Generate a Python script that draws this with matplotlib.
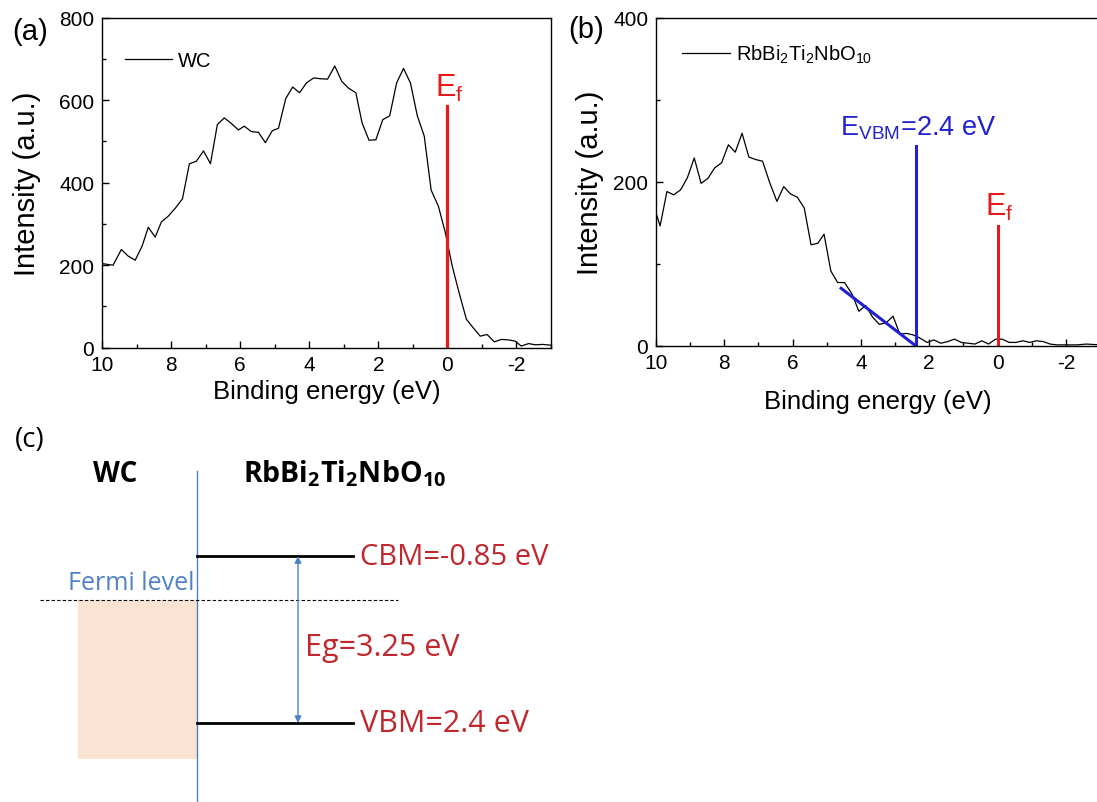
import numpy as np
import matplotlib
matplotlib.use("Agg")
import matplotlib.pyplot as plt
from matplotlib.ticker import MultipleLocator
from matplotlib.patches import Rectangle

plt.rcParams['font.family'] = ['Liberation Sans', 'DejaVu Sans']
plt.rcParams['mathtext.default'] = 'regular'
plt.rcParams['axes.unicode_minus'] = False

# (a) WC valence band XPS
wc_energy = [10.0, 9.68, 9.44, 9.24, 9.04, 8.84, 8.66, 8.46, 8.28, 8.08, 7.87, 7.67,
             7.47, 7.27, 7.06, 6.86, 6.66, 6.46, 6.26, 6.05, 5.88, 5.68, 5.47, 5.27,
             5.07, 4.89, 4.68, 4.48, 4.28, 4.08, 3.87, 3.67, 3.47, 3.26, 3.06, 2.86,
             2.65, 2.47, 2.27, 2.07, 1.87, 1.67, 1.47, 1.27, 1.07, 0.87, 0.67, 0.47,
             0.26, 0.06, -0.14, -0.34, -0.55, -0.75, -0.95, -1.15, -1.36, -1.56, -1.76,
             -1.96, -2.14, -2.35, -2.55, -2.75, -3.0]
wc_intensity = [204, 200, 238, 222, 212, 246, 292, 268, 305, 319, 339, 361,
                446, 452, 477, 446, 541, 557, 544, 528, 537, 524, 522, 497,
                526, 532, 604, 632, 618, 642, 654, 652, 651, 683, 646, 629,
                618, 545, 503, 504, 553, 562, 642, 677, 642, 562, 513, 382,
                343, 279, 198, 133, 69, 48, 28, 32, 14, 20, 19,
                16, 4, 10, 7, 8, 6]

# (b) RbBi2Ti2NbO10 valence band XPS
rb_energy = [10.0, 9.88, 9.68, 9.48, 9.28, 9.08, 8.88, 8.68, 8.48, 8.28, 8.08, 7.88,
             7.68, 7.48, 7.28, 7.08, 6.88, 6.68, 6.46, 6.26, 6.06, 5.86, 5.66, 5.46,
             5.26, 5.08, 4.88, 4.68, 4.48, 4.26, 4.06, 3.86, 3.66, 3.46, 3.26, 3.06,
             2.86, 2.66, 2.46, 2.26, 2.06, 1.86, 1.66, 1.46, 1.26, 1.06, 0.86, 0.66,
             0.46, 0.26, 0.06, -0.14, -0.34, -0.54, -0.74, -0.94, -1.14, -1.34, -1.54,
             -1.74, -1.94, -2.14, -2.34, -2.6, -3.0]
rb_intensity = [162, 146, 188, 184, 190, 205, 229, 198, 204, 217, 223, 245,
                236, 259, 230, 227, 225, 200, 176, 194, 185, 181, 168, 123,
                125, 136, 91, 77, 77, 63, 42, 49, 35, 26, 28, 36,
                14, 15, 13, 9, 4, 7, 3, 5, 8, 4, 3, 2,
                6, 2, 8, 8, 4, 4, 6, 4, 6, 5, 2,
                1, 1, 1, 1, 2, 1]

e_fermi = 0.0
e_vbm = 2.4
tangent_energy = [4.58, 2.4]
tangent_intensity = [70, 0]

# (c) band diagram (eV)
cbm = -0.85
vbm = 2.4
eg = 3.25
wc_fill_bottom = 3.1

red = '#E41A1C'
blue = '#2121D0'
txt_red = '#C0282D'
lt_blue = '#4F81C6'

fig = plt.figure(figsize=(10.97, 8.03), dpi=100)


def style(ax, ymaj, ymin, xlab_y, ylab_x):
    ax.set_xlim(10, -3)
    ax.xaxis.set_major_locator(MultipleLocator(2))
    ax.xaxis.set_minor_locator(MultipleLocator(1))
    ax.yaxis.set_major_locator(MultipleLocator(ymaj))
    ax.yaxis.set_minor_locator(MultipleLocator(ymin))
    ax.tick_params(which='both', direction='in', top=False, right=False, labelsize=15)
    ax.tick_params(axis='x', pad=5)
    ax.tick_params(axis='y', pad=5.5)
    ax.tick_params(which='major', length=5, width=1)
    ax.tick_params(which='minor', length=3, width=1)
    for s in ax.spines.values():
        s.set_linewidth(1)
    ax.set_xlabel('Binding energy (eV)', fontsize=18.5, va='center')
    ax.set_ylabel('Intensity (a.u.)', fontsize=21, va='center')
    ax.xaxis.set_label_coords(0.5, xlab_y)
    ax.yaxis.set_label_coords(ylab_x, 0.5)


# panel (a)
ax1 = fig.add_axes([102 / 1097, 1 - 348.7 / 803, 449 / 1097, 330 / 803])
ax1.plot(wc_energy, wc_intensity, color='black', lw=0.9, label='WC')
ax1.plot([e_fermi, e_fermi], [0, 586], color=red, lw=2.3)
ax1.text(e_fermi - 0.05, 610, 'E$_f$', color=red, fontsize=22, ha='center', va='baseline')
ax1.set_ylim(0, 800)
style(ax1, 200, 100, -0.131, -0.168)
ax1.legend(loc='center left', frameon=False, fontsize=14.5, handlelength=2.35,
           handletextpad=0.3, borderpad=0, borderaxespad=0,
           bbox_to_anchor=(0.051, 0.869))
fig.text(12 / 1097, 1 - 32 / 803, '(a)', fontsize=21, va='center')

# panel (b)
ax2 = fig.add_axes([656 / 1097, 1 - 346.7 / 803, 444 / 1097, 328 / 803])
ax2.plot(rb_energy, rb_intensity, color='black', lw=0.9,
         label='RbBi$_2$Ti$_2$NbO$_{10}$')
ax2.plot(tangent_energy, tangent_intensity, color=blue, lw=2.2)
ax2.plot([e_vbm, e_vbm], [0, 243], color=blue, lw=2.2)
ax2.plot([e_fermi, e_fermi], [0, 146], color=red, lw=2.2)
ax2.text(2.31, 258, 'E$_{VBM}$=2.4 eV', color=blue, fontsize=19.5,
         ha='center', va='baseline')
ax2.text(e_fermi - 0.05, 160, 'E$_f$', color=red, fontsize=22, ha='center', va='baseline')
ax2.set_ylim(0, 400)
style(ax2, 200, 100, -0.169, -0.149)
ax2.legend(loc='center left', frameon=False, fontsize=14.5, handlelength=2.35,
           handletextpad=0.3, borderpad=0, borderaxespad=0,
           bbox_to_anchor=(0.059, 0.889))
fig.text(568 / 1097, 1 - 30 / 803, '(b)', fontsize=21, va='center')

# panel (c) schematic, y in eV (downward = larger binding energy)
ax3 = fig.add_axes([0, 0, 560 / 1097, 383 / 803])
ax3.set_xlim(0, 560)
ax3.set_ylim(3.936, -3.517)
ax3.axis('off')
cfont = ['Open Sans', 'DejaVu Sans']

ax3.text(15, -3.13, '(c)', fontsize=20, va='center', family=cfont)
ax3.text(115, -2.31, 'WC', fontsize=20, fontweight='bold', ha='center', va='baseline',
         family=cfont)
ax3.text(345, -2.31, 'RbBi$_2$Ti$_2$NbO$_{10}$', fontsize=20.5, fontweight='bold',
         ha='center', va='baseline', family=cfont)
ax3.plot([197, 197], [-2.50, 3.936], color=lt_blue, lw=1)
ax3.add_patch(Rectangle((78, e_fermi), 197 - 78, wc_fill_bottom, color='#FBE3D4', lw=0))
ax3.plot([40, 398], [e_fermi, e_fermi], color='black', lw=0.8, ls=(0, (3, 2)))
ax3.plot([197, 353], [cbm, cbm], color='black', lw=2)
ax3.plot([197, 353], [vbm, vbm], color='black', lw=2)
ax3.annotate('', xy=(298, vbm), xytext=(298, cbm),
             arrowprops=dict(arrowstyle='<|-|>', color=lt_blue, lw=1, mutation_scale=10,
                             shrinkA=0, shrinkB=0))
ax3.text(195, -0.1, 'Fermi level', color=lt_blue, fontsize=18, ha='right', va='bottom',
         family=cfont)
ax3.text(360, cbm, 'CBM=-0.85 eV', color=txt_red, fontsize=21, va='center', family=cfont)
ax3.text(360, vbm, 'VBM=2.4 eV', color=txt_red, fontsize=22, va='center', family=cfont)
ax3.text(305, (cbm + vbm) / 2 + 0.15, 'Eg=%.2f eV' % eg, color=txt_red, fontsize=22,
         va='center', family=cfont)

fig.savefig('out.png', dpi=100)
